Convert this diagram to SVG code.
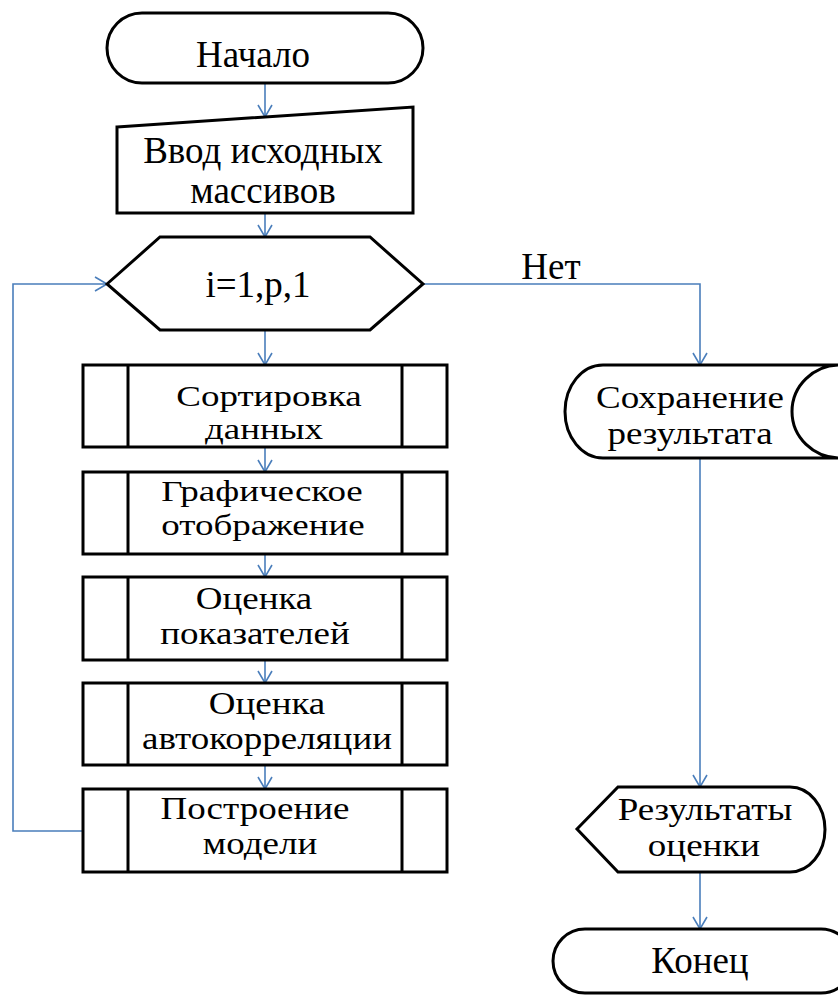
<svg xmlns="http://www.w3.org/2000/svg" width="838" height="996" viewBox="0 0 838 996">
  <style>
    .shape { fill: #ffffff; stroke: #000000; stroke-width: 3; stroke-linejoin: miter; }
    .bar { stroke: #000000; stroke-width: 3; }
    .lbl { font-family: "Liberation Serif", "Times New Roman", serif; font-size: 37px; fill: #000000; text-anchor: middle; }
    .flow { fill: none; stroke: #4a7ebb; stroke-width: 1.6; }
  </style>
  <defs>
    <marker id="arrow" markerUnits="userSpaceOnUse" markerWidth="20" markerHeight="20" refX="14" refY="8" orient="auto">
      <path d="M2,1 L14,8 L2,15" fill="none" stroke="#4a7ebb" stroke-width="1.6"/>
    </marker>
  </defs>
  <rect width="838" height="996" fill="#ffffff"/>

  <!-- connectors -->
  <g id="connectors">
    <path class="flow" d="M265,83 V117" marker-end="url(#arrow)"/>
    <path class="flow" d="M265,213 V237" marker-end="url(#arrow)"/>
    <path class="flow" d="M265,330 V365" marker-end="url(#arrow)"/>
    <path class="flow" d="M265,447 V472" marker-end="url(#arrow)"/>
    <path class="flow" d="M265,554 V577" marker-end="url(#arrow)"/>
    <path class="flow" d="M265,660 V683" marker-end="url(#arrow)"/>
    <path class="flow" d="M265,765 V789" marker-end="url(#arrow)"/>
    <path class="flow" d="M83,831 H13 V284 H107" marker-end="url(#arrow)"/>
    <path class="flow" d="M423,284 H700 V365" marker-end="url(#arrow)"/>
    <path class="flow" d="M700,458 V787" marker-end="url(#arrow)"/>
    <path class="flow" d="M700,872 V929" marker-end="url(#arrow)"/>
    <text class="lbl" x="551" y="279">Нет</text>
  </g>

  <g id="start">
    <rect class="shape" x="107" y="13" width="316" height="70" rx="35" ry="35"/>
    <text class="lbl" x="253" y="67">Начало</text>
  </g>

  <g id="input">
    <polygon class="shape" points="117,127 413,107 413,213 117,213"/>
    <text class="lbl" x="263" y="163">Ввод исходных</text>
    <text class="lbl" x="263" y="203">массивов</text>
  </g>

  <g id="loop">
    <polygon class="shape" points="107,284 160,237 370,237 423,284 370,330 160,330"/>
    <text class="lbl" x="258" y="297">i=1,p,1</text>
  </g>

  <!-- process blocks: labels squeezed vertically to fit two lines -->
  <g id="sort">
    <rect class="shape" x="83" y="365" width="364" height="82"/>
    <line class="bar" x1="128" y1="365" x2="128" y2="447"/>
    <line class="bar" x1="402" y1="365" x2="402" y2="447"/>
    <text class="lbl" transform="translate(269,406) scale(1,0.8)">Сортировка</text>
    <text class="lbl" transform="translate(264,439) scale(1,0.8)">данных</text>
  </g>

  <g id="plot">
    <rect class="shape" x="83" y="472" width="364" height="82"/>
    <line class="bar" x1="128" y1="472" x2="128" y2="554"/>
    <line class="bar" x1="402" y1="472" x2="402" y2="554"/>
    <text class="lbl" transform="translate(262,501) scale(1,0.8)">Графическое</text>
    <text class="lbl" transform="translate(263,535) scale(1,0.8)">отображение</text>
  </g>

  <g id="metrics">
    <rect class="shape" x="83" y="577" width="364" height="83"/>
    <line class="bar" x1="128" y1="577" x2="128" y2="660"/>
    <line class="bar" x1="402" y1="577" x2="402" y2="660"/>
    <text class="lbl" transform="translate(254,609) scale(1,0.88)">Оценка</text>
    <text class="lbl" transform="translate(255,644) scale(1,0.88)">показателей</text>
  </g>

  <g id="autocorr">
    <rect class="shape" x="83" y="683" width="364" height="82"/>
    <line class="bar" x1="128" y1="683" x2="128" y2="765"/>
    <line class="bar" x1="402" y1="683" x2="402" y2="765"/>
    <text class="lbl" transform="translate(267,714) scale(1,0.86)">Оценка</text>
    <text class="lbl" transform="translate(267,749) scale(1,0.86)">автокорреляции</text>
  </g>

  <g id="model">
    <rect class="shape" x="83" y="789" width="364" height="83"/>
    <line class="bar" x1="128" y1="789" x2="128" y2="872"/>
    <line class="bar" x1="402" y1="789" x2="402" y2="872"/>
    <text class="lbl" transform="translate(255,819) scale(1,0.86)">Построение</text>
    <text class="lbl" transform="translate(260,854) scale(1,0.86)">модели</text>
  </g>

  <g id="save">
    <path class="shape" d="M840,365 H603 A38,46.5 0 0 0 603,458 H840 A48,46.5 0 0 1 840,365 Z"/>
    <text class="lbl" transform="translate(690,408) scale(1,0.88)">Сохранение</text>
    <text class="lbl" transform="translate(690,444) scale(1,0.88)">результата</text>
  </g>

  <g id="results">
    <path class="shape" d="M577,829 L618,787 H790 A35,42.5 0 0 1 790,872 H618 Z"/>
    <text class="lbl" transform="translate(705,820) scale(1,0.86)">Результаты</text>
    <text class="lbl" transform="translate(704,856) scale(1,0.86)">оценки</text>
  </g>

  <g id="end">
    <rect class="shape" x="553" y="929" width="300" height="64" rx="32" ry="32"/>
    <text class="lbl" x="700" y="973">Конец</text>
  </g>
</svg>
